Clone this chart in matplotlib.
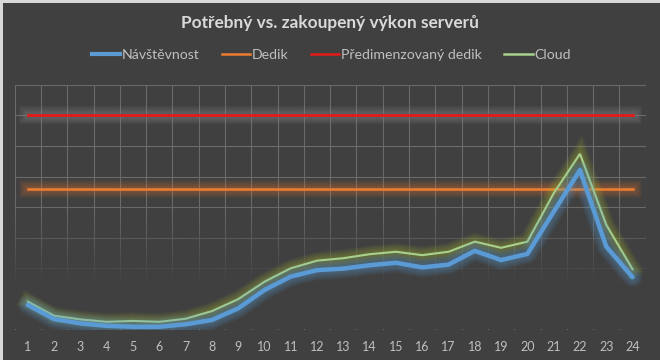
import numpy as np
import matplotlib
matplotlib.use("Agg")
import matplotlib.pyplot as plt
import matplotlib.patheffects as pe
from matplotlib.patches import Rectangle

hours = list(range(1, 25))
navstevnost = [0.80, 0.34, 0.20, 0.12, 0.09, 0.09, 0.17, 0.31, 0.69, 1.29, 1.73, 1.94,
               1.99, 2.10, 2.18, 2.03, 2.12, 2.57, 2.27, 2.47, 3.85, 5.21, 2.71, 1.71]
cloud = [0.91, 0.45, 0.33, 0.25, 0.28, 0.25, 0.35, 0.60, 0.99, 1.56, 2.00, 2.25,
         2.33, 2.46, 2.54, 2.43, 2.54, 2.87, 2.67, 2.87, 4.45, 5.74, 3.42, 1.97]
dedik = [4.6] * 24
predimenzovany = [7.0] * 24

BG = "#404040"
TXT = "#d9d9d9"

plt.rcParams["font.family"] = ["Lato", "DejaVu Sans"]

fig = plt.figure(figsize=(6.6, 3.6), dpi=100)
fig.patch.set_facecolor("#d9d9d9")
fig.patches.append(Rectangle((3 / 660, 0), 1, 1 - 3 / 360, transform=fig.transFigure,
                             facecolor=BG, edgecolor="none", zorder=-10))

ax = fig.add_axes([14.7 / 660, 1 - 329.5 / 360, (645.7 - 14.7) / 660, (329.5 - 84.7) / 360])
ax.set_facecolor(BG)
ax.set_axisbelow(True)
ax.set_xlim(0.5, 24.5)
ax.set_ylim(0, 8)
ax.set_yticks(range(0, 9))
ax.set_yticklabels([])
ax.set_xticks(hours)
ax.set_xticks(np.arange(0.5, 25), minor=True)
ax.tick_params(which="both", length=0, left=False)
ax.tick_params(axis="x", colors="#bfbfbf", labelsize=9, pad=8)
ax.grid(axis="x", which="minor", color="#6a6a6a", lw=0.8)
ax.grid(axis="y", which="major", color="#6a6a6a", lw=0.8)
ax.grid(axis="x", which="major", visible=False)
for s in ax.spines.values():
    s.set_visible(False)

# fade grid towards the bottom of the plot
fade = np.zeros((100, 2, 4))
fade[..., :3] = matplotlib.colors.to_rgb(BG)
alpha = np.clip((4.0 - np.linspace(0, 8, 100)) / 2.6, 0, 1)
fade[..., 3] = alpha[:, None]
ax.imshow(fade, extent=(0.5, 24.5, 0, 8), origin="lower", aspect="auto",
          interpolation="bilinear", zorder=1)


def glow(color, width, alpha=0.07, n=8, step=1.4):
    eff = [pe.Stroke(linewidth=width + step * k, foreground=color, alpha=alpha)
           for k in range(n, 0, -1)]
    return eff + [pe.Normal()]


ax.plot(hours, predimenzovany, color="#e41a1a", lw=2.0, zorder=3,
        path_effects=glow("#8a8a8a", 2.0), label="Předimenzovaný dedik")
ax.plot(hours, dedik, color="#ed7d31", lw=1.8, zorder=3,
        path_effects=glow("#ed7d31", 1.8, alpha=0.05), label="Dedik")
ax.plot(hours, cloud, color="#a9d18e", lw=1.5, zorder=4, solid_joinstyle="miter",
        path_effects=glow("#b5c430", 1.5, alpha=0.05), label="Cloud")
ax.plot(hours, navstevnost, color="#5b9bd5", lw=3.2, zorder=5,
        solid_joinstyle="round", solid_capstyle="round",
        path_effects=glow("#5b9bd5", 3.2, alpha=0.06), label="Návštěvnost")

fig.text(0.5, 1 - 23 / 360, "Potřebný vs. zakoupený výkon serverů", ha="center",
         va="center", color=TXT, fontsize=12.4, fontweight="bold")

handles, labels = ax.get_legend_handles_labels()
order = [3, 1, 0, 2]
leg = fig.legend([plt.Line2D([], [], color=h.get_color(),
                             lw=3.0 if h.get_linewidth() > 3 else 1.8)
                  for h in [handles[i] for i in order]],
                 [labels[i] for i in order],
                 loc="center", bbox_to_anchor=(331 / 660, 1 - 55 / 360), ncol=4,
                 frameon=False, fontsize=10.2, handlelength=2.0, handletextpad=0.1,
                 columnspacing=1.6, labelcolor="#bfbfbf")

fig.savefig("out.png", dpi=100, facecolor=fig.get_facecolor())
